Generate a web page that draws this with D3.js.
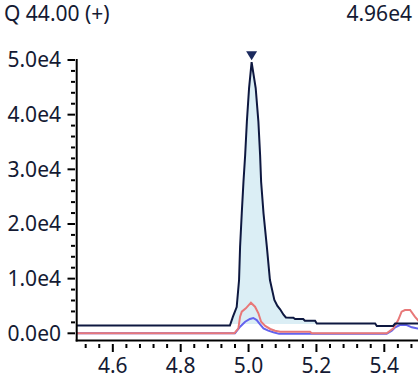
<!DOCTYPE html>
<html>
<head>
<script src="https://d3js.org/d3.v7.min.js"></script>
<style>
body{margin:0;background:#fff;}
text{font-family:"Segoe UI","Noto Sans",sans-serif;font-size:21px;fill:#141a33;}
</style>
</head>
<body>
<script>
// chromatogram values
var title = "Q 44.00 (+)";
var peakText = "4.96e4";
var xTicks = [4.6, 4.8, 5.0, 5.2, 5.4];
var yTicks = [0, 10000, 20000, 30000, 40000, 50000];

var ticT = [4.49, 4.945, 4.954, 4.965, 4.972, 4.975, 4.980, 4.985, 4.990, 4.995, 5.0015, 5.009,
            5.021, 5.029, 5.034, 5.037, 5.044, 5.054, 5.063, 5.076, 5.085, 5.093, 5.103, 5.110,
            5.132, 5.137, 5.161, 5.166, 5.196, 5.201, 5.373, 5.378, 5.426, 5.432, 5.50];
var ticI = [1430, 1430, 3040, 4810, 9750, 15780, 22000, 27730, 32610, 38700, 44870, 49600,
            44870, 38700, 32610, 27730, 22000, 15780, 9750, 6090, 5000, 4400, 3400, 2900,
            2850, 2620, 2620, 2300, 2300, 1790, 1790, 1340, 1340, 1790, 1790];

var redT = [4.49, 4.958, 4.970, 4.975, 4.980, 4.992, 5.007, 5.019, 5.029, 5.037, 5.049, 5.064,
            5.078, 5.093, 5.181, 5.186, 5.407, 5.427, 5.441, 5.451, 5.461, 5.476, 5.490, 5.505];
var redI = [0, 0, 910, 3040, 3950, 4570, 5600, 4870, 3660, 2120, 1340, 790,
            480, 290, 290, 0, 0, 910, 2430, 3950, 4260, 4260, 3040, 2000];

var blueT = [4.49, 4.960, 4.975, 4.990, 5.004, 5.014, 5.024, 5.034, 5.044, 5.058, 5.073, 5.090,
             5.407, 5.422, 5.432, 5.446, 5.466, 5.481, 5.495, 5.505];
var blueI = [0, 0, 1200, 2120, 2620, 2800, 2430, 1650, 910, 480, 180, -100,
             -100, 480, 1100, 1520, 1520, 1100, 910, 800];

// integrated peak
var peakStart = 4.948, peakEnd = 5.200, peakBase = 1700;

var W = 418, H = 380;
var svg = d3.select("body").append("svg").attr("width", W).attr("height", H);

var x = d3.scaleLinear().domain([4.4915, 5.4993]).range([76, 418]);
var y = d3.scaleLinear().domain([0, 50000]).range([333.3, 60]);

svg.append("defs").append("clipPath").attr("id", "plot")
  .append("rect").attr("x", 77).attr("y", 0).attr("width", W - 77).attr("height", 340);

var g = svg.append("g").attr("clip-path", "url(#plot)");

function pts(ts, vs){ return ts.map(function(t, i){ return [t, vs[i]]; }); }
var tic = pts(ticT, ticI), red = pts(redT, redI), blue = pts(blueT, blueI);

var line = d3.line().x(function(d){ return x(d[0]); }).y(function(d){ return y(d[1]); });

// fill under the peak
var ticAt = d3.scaleLinear().domain(ticT).range(ticI);
var fillPts = [[peakStart, ticAt(peakStart)]]
  .concat(tic.filter(function(d){ return d[0] > peakStart && d[0] < peakEnd; }))
  .concat([[peakEnd, ticAt(peakEnd)]]);
var area = d3.area().x(function(d){ return x(d[0]); })
  .y0(y(peakBase)).y1(function(d){ return y(Math.max(d[1], peakBase)); });
g.append("path").attr("d", area(fillPts)).attr("fill", "#dbeef5");

g.append("path").attr("d", line(blue)).attr("fill", "none").attr("stroke", "#6363ee").attr("stroke-width", 2);
g.append("path").attr("d", line(red)).attr("fill", "none").attr("stroke", "#e87878").attr("stroke-width", 2);
g.append("path").attr("d", line(tic)).attr("fill", "none").attr("stroke", "#0e1840").attr("stroke-width", 2);

// peak marker
var apex = tic.reduce(function(a, b){ return b[1] > a[1] ? b : a; });
var px = x(apex[0]), py = y(apex[1]) - 2;
svg.append("path").attr("d", "M" + (px - 5.5) + "," + (py - 9) + "L" + (px + 5.5) + "," + (py - 9) + "L" + px + "," + py + "Z")
  .attr("fill", "#1b2a5e");

// axes
svg.append("line").attr("x1", 76.7).attr("x2", 76.7).attr("y1", 59).attr("y2", 341.5)
  .attr("stroke", "#000").attr("stroke-width", 2);
svg.append("line").attr("x1", 75.7).attr("x2", W).attr("y1", 340.5).attr("y2", 340.5)
  .attr("stroke", "#000").attr("stroke-width", 2);

var fy = function(v){ return d3.format(".1e")(v).replace("+", ""); };
var yMinor = d3.range(0, 50001, 2000).filter(function(v){ return v % 10000 !== 0; });
svg.selectAll(".ymin").data(yMinor).enter().append("line")
  .attr("x1", 71).attr("x2", 75).attr("y1", function(d){ return y(d); }).attr("y2", function(d){ return y(d); })
  .attr("stroke", "#000").attr("stroke-width", 2);
svg.selectAll(".ymaj").data(yTicks).enter().append("line")
  .attr("x1", 67.5).attr("x2", 75).attr("y1", function(d){ return y(d); }).attr("y2", function(d){ return y(d); })
  .attr("stroke", "#000").attr("stroke-width", 2);
svg.selectAll(".ylab").data(yTicks).enter().append("text")
  .attr("x", 61).attr("y", function(d){ return y(d); }).attr("dy", "0.35em")
  .attr("text-anchor", "end").text(fy);

var xMinor = d3.range(4.52, 5.49, 0.04).filter(function(v){
  return xTicks.every(function(t){ return Math.abs(t - v) > 0.005; }); });
svg.selectAll(".xmin").data(xMinor).enter().append("line")
  .attr("x1", function(d){ return x(d); }).attr("x2", function(d){ return x(d); })
  .attr("y1", 344).attr("y2", 348).attr("stroke", "#000").attr("stroke-width", 2);
svg.selectAll(".xmaj").data(xTicks).enter().append("line")
  .attr("x1", function(d){ return x(d); }).attr("x2", function(d){ return x(d); })
  .attr("y1", 344).attr("y2", 352).attr("stroke", "#000").attr("stroke-width", 2);
svg.selectAll(".xlab").data(xTicks).enter().append("text")
  .attr("x", function(d){ return x(d); }).attr("y", 373)
  .attr("text-anchor", "middle").text(function(d){ return d.toFixed(1); });

svg.append("text").attr("x", 4).attr("y", 21).text(title);
svg.append("text").attr("x", 412).attr("y", 21).attr("text-anchor", "end").text(peakText);
</script>
</body>
</html>
